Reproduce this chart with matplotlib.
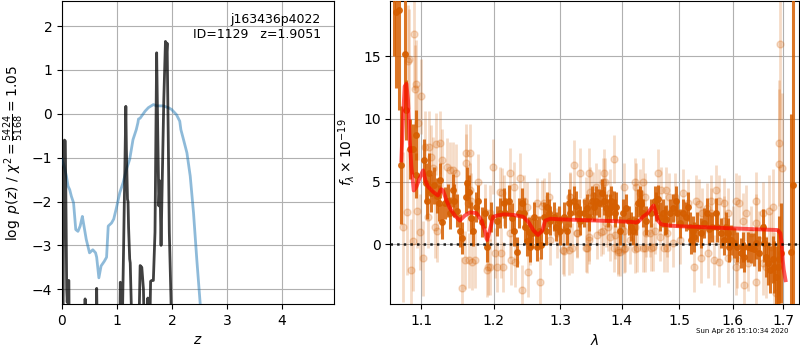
import matplotlib
matplotlib.use('Agg')
import matplotlib.pyplot as plt
from matplotlib.ticker import FixedLocator, FixedFormatter, NullLocator

# ---------------- left panel: redshift fit ----------------
chi_z = [0.0, 0.04, 0.08, 0.11, 0.14, 0.17, 0.21, 0.25, 0.29, 0.33, 0.37, 0.39, 0.44, 0.50, 0.56,
         0.61, 0.63, 0.67, 0.71, 0.77, 0.81, 0.84, 0.90, 0.94, 0.99, 1.05, 1.11, 1.17, 1.23, 1.29,
         1.35, 1.38, 1.39, 1.42, 1.51, 1.57, 1.66, 1.72, 1.84, 1.93, 1.99, 2.08, 2.14, 2.16, 2.20,
         2.27, 2.33, 2.39, 2.45, 2.51, 2.57]
chi_v = [-1.04, -1.20, -1.42, -1.65, -1.73, -1.88, -2.03, -2.64, -2.68, -2.56, -2.34, -2.49, -2.86,
         -3.17, -3.10, -3.17, -3.27, -3.74, -3.47, -3.36, -3.27, -2.56, -2.49, -2.40, -2.14, -1.80,
         -1.57, -1.27, -1.04, -0.59, -0.36, -0.20, -0.12, -0.10, 0.06, 0.14, 0.21, 0.18, 0.18, 0.14,
         0.10, -0.02, -0.17, -0.36, -0.55, -0.89, -1.42, -2.26, -3.33, -4.31, -5.3]

pz_z = [0.00, 0.02, 0.035, 0.045, 0.06, 0.075, 0.085, 0.095, 0.11, 0.125, 0.135, 0.40, 0.42, 0.44,
        0.61, 0.63, 0.65, 1.04, 1.06, 1.08, 1.12, 1.16, 1.17, 1.19, 1.20, 1.21, 1.23, 1.24, 1.26,
        1.28, 1.38, 1.42, 1.45, 1.48, 1.51, 1.54, 1.56, 1.58, 1.61, 1.63, 1.66, 1.69, 1.72, 1.74,
        1.76, 1.78, 1.80, 1.82, 1.85, 1.88, 1.90, 1.91, 1.93, 1.95, 1.98, 2.01, 2.10]
pz_v = [-6, -4.5, -0.65, -0.60, -0.62, -2.5, -4.0, -4.3, -3.8, -3.8, -6, -6, -4.22, -6,
        -6, -3.98, -6, -6, -3.84, -6, -3.0, 0.17, -0.8, -1.95, -2.0, -2.6, -3.31, -3.4, -4.4,
        -6, -6, -3.46, -3.5, -4.0, -6, -6, -4.2, -6, -3.82, -3.80, -3.8, -2.7, 1.39, -0.43,
        -2.1, -1.53, -3.0, -1.64, 0.33, 1.65, 1.39, 1.61, -0.43, -2.7, -4.2, -6, -6]

z_ticks = [0, 1, 2, 3, 4]
logp_ticks = [-4, -3, -2, -1, 0, 1, 2]

# ---------------- right panel: spectrum ----------------
dark_wave = [1.0639, 1.0665, 1.0708, 1.0738, 1.0781, 1.0803, 1.0846, 1.0890, 1.0925, 1.0934,
             1.1035, 1.1058, 1.1075, 1.1102, 1.1133, 1.1164, 1.1210, 1.1236, 1.1246, 1.1282,
             1.1313, 1.1359, 1.1382, 1.1428, 1.1437, 1.1487, 1.1529, 1.1557, 1.1603, 1.1622,
             1.1645, 1.1683, 1.1707, 1.1744, 1.1778, 1.1825, 1.1872, 1.1905, 1.1967,
             1.2048, 1.2097, 1.2146, 1.2170, 1.2219, 1.2268, 1.2293, 1.2343, 1.2367, 1.2417,
             1.2442, 1.2467, 1.2492, 1.2518, 1.2542, 1.2568, 1.2593, 1.2619, 1.2644, 1.2670,
             1.2695, 1.2746, 1.2772, 1.2797, 1.2823, 1.2848, 1.2900, 1.2926, 1.2978, 1.3003,
             1.3056, 1.3108, 1.3134, 1.3161, 1.3214, 1.3256, 1.3294, 1.3320, 1.3373, 1.3427,
             1.3454, 1.3508, 1.3535,
             1.3573, 1.3628, 1.3672, 1.3710, 1.3738, 1.3766, 1.3794, 1.3822, 1.3861, 1.3878,
             1.3905, 1.3961, 1.4017, 1.4073, 1.4119, 1.4158, 1.4187, 1.4244, 1.4273, 1.4301,
             1.4330, 1.4359, 1.4417, 1.4505, 1.4562, 1.4592, 1.4621, 1.4650, 1.4710, 1.4740,
             1.4769, 1.4828, 1.4888, 1.4936, 1.4966, 1.5008, 1.5068, 1.5128, 1.5159, 1.5189,
             1.5219, 1.5250,
             1.5271, 1.5333, 1.5394, 1.5456, 1.5519, 1.5550, 1.5612, 1.5675, 1.5707, 1.5770,
             1.5834, 1.5866, 1.5898, 1.5930, 1.5962, 1.6026, 1.6090, 1.6155, 1.6188, 1.6220,
             1.6286, 1.6351, 1.6417, 1.6450, 1.6516, 1.6583, 1.6616, 1.6650, 1.6683, 1.6738,
             1.6785, 1.6819, 1.6853, 1.6885, 1.6921, 1.6948, 1.7150, 1.7197]
dark_flux = [21.0, 18.5, 18.7, 6.3, 15.2, 10.7, 7.6, 7.6, 8.7, 5.5,
             6.7, 4.9, 3.5, 5.7, 4.1, 4.7, 3.9, 3.3, 5.1, 1.8,
             3.3, 3.5, 2.5, 4.3, 3.5, 2.7, 1.1, 0.5, 3.8, 4.9,
             4.2, 2.1, 1.1, 3.0, 3.5, 1.8, 2.5, -0.2, 2.2,
             1.9, 2.5, 3.3, 2.5, 3.5, 2.1, 1.1, -0.6, 2.5, 3.3,
             2.5, 1.4, 0.3, 1.0, -0.2, 0.9, 2.2, 0.9, -0.2, 1.1,
             -0.05, 2.2, 1.1, 3.0, 2.5, 1.9, 2.2, 1.4, 1.9, 1.1,
             2.2, 1.1, 3.3, 2.5, 3.5, 3.1, 2.5, 1.9, 2.5, 2.9,
             2.2, 3.5, 3.0,
             3.5, 3.3, 4.1, 3.5, 2.9, 2.5, 2.9, 3.5, 3.1, 2.5,
             3.0, 1.1, 2.5, 2.9, 1.9, 1.4, 1.1, 1.9, 3.3, 3.5,
             3.2, 2.5, 1.9, 2.5, 3.5, 3.0, 3.6, 2.2, 2.5, 1.9,
             2.0, 2.5, 2.9, 3.5, 2.5, 1.7, 2.5, 2.2, 3.0, 1.4,
             0.35, 1.1,
             0.6, 1.4, 0.9, 1.7, 2.5, 1.2, 1.4, 2.5, 1.4, 0.9,
             0.35, 1.4, 0.9, -0.2, 0.35, 0.1, -0.2, -0.7, -0.2, -1.0,
             -0.2, -0.3, -0.4, 0.1, -0.7, 1.4, 0.1, -1.0, -1.5, -2.0,
             -1.2, -1.8, -2.6, -1.8, -1.2, -0.7, -0.6, 4.7]
dark_err = [6.0, 6.0, 8.0, 4.7, 4.5, 2.4, 2.4, 2.0, 2.0, 1.8,
            1.7, 1.6, 1.5, 1.6, 1.5, 1.5, 1.4, 1.4, 1.4, 1.4,
            1.3, 1.3, 1.3, 1.3, 1.3, 1.3, 1.3, 1.3, 1.3, 1.3,
            1.3, 1.3, 1.2, 1.2, 1.2, 1.2, 1.2, 1.2, 1.2,
            1.2, 1.2, 1.2, 1.2, 1.2, 1.2, 1.2, 1.2, 1.2, 1.2,
            1.2, 1.2, 1.2, 1.2, 1.2, 1.2, 1.2, 1.15, 1.15, 1.15,
            1.15, 1.15, 1.15, 1.15, 1.15, 1.15, 1.15, 1.15, 1.15, 1.15,
            1.15, 1.15, 1.15, 1.15, 1.15, 1.15, 1.15, 1.15, 1.15, 1.15,
            1.15, 1.15, 1.15,
            1.15, 1.15, 1.15, 1.15, 1.15, 1.15, 1.15, 1.15, 1.15, 1.15,
            1.15, 1.15, 1.15, 1.15, 1.15, 1.15, 1.15, 1.15, 1.15, 1.15,
            1.15, 1.15, 1.15, 1.15, 1.15, 1.15, 1.15, 1.15, 1.15, 1.15,
            1.15, 1.15, 1.15, 1.15, 1.15, 1.15, 1.15, 1.15, 1.15, 1.15,
            1.15, 1.15,
            1.2, 1.2, 1.2, 1.2, 1.2, 1.2, 1.2, 1.2, 1.2, 1.2,
            1.2, 1.2, 1.2, 1.2, 1.2, 1.2, 1.2, 1.2, 1.2, 1.2,
            1.2, 1.2, 1.3, 1.3, 1.4, 1.4, 1.5, 1.6, 1.7, 1.9,
            1.9, 2.1, 2.5, 3.0, 3.5, 4.0, 11.0, 16.0]

light_wave = [1.0760, 1.0812, 1.0824, 1.0833, 1.0868, 1.0890, 1.0899, 1.0912, 1.0934, 1.0940,
              1.0956, 1.0978, 1.0991, 1.1022, 1.1044, 1.1089, 1.1102, 1.1133, 1.1155, 1.1177,
              1.1201, 1.1210, 1.1255, 1.1282, 1.1337, 1.1382, 1.1428, 1.1464, 1.1557, 1.1590,
              1.1603, 1.1613, 1.1636, 1.1655, 1.1660, 1.1665, 1.1683, 1.1697, 1.1739, 1.1778,
              1.1872, 1.1896, 1.1919, 1.1943, 1.1952, 1.1991,
              1.2024, 1.2048, 1.2097, 1.2100, 1.2121, 1.2136, 1.2146, 1.2240, 1.2244, 1.2250,
              1.2293, 1.2318, 1.2392, 1.2417, 1.2442, 1.2492, 1.2502, 1.2542, 1.2644, 1.2685,
              1.2721, 1.2746, 1.2823, 1.2848, 1.2952, 1.3056, 1.3134, 1.3161, 1.3188, 1.3214,
              1.3267, 1.3320, 1.3427, 1.3454, 1.3481,
              1.3465, 1.3519, 1.3573, 1.3580, 1.3683, 1.3690, 1.3710, 1.3766, 1.3794, 1.3861,
              1.3878, 1.3933, 1.3961, 1.4045, 1.4130, 1.4215, 1.4244, 1.4250, 1.4359, 1.4388,
              1.4475, 1.4533, 1.4621, 1.4650, 1.4769, 1.4775, 1.4888, 1.4918, 1.5008, 1.5068,
              1.5159,
              1.5271, 1.5302, 1.5363, 1.5394, 1.5400, 1.5425, 1.5519, 1.5525, 1.5581, 1.5590,
              1.5644, 1.5675, 1.5739, 1.5745, 1.5834, 1.5840, 1.5898, 1.5905, 1.5994, 1.6058,
              1.6065, 1.6090, 1.6122, 1.6188, 1.6207, 1.6253, 1.6286, 1.6351, 1.6450, 1.6455,
              1.6460, 1.6516, 1.6583, 1.6590, 1.6650, 1.6717, 1.6751, 1.6785, 1.6819, 1.6853,
              1.6907, 1.6921, 1.6941, 1.6976,
              1.3153, 1.3413, 1.3624, 1.3806, 1.4041, 1.4307, 1.4388, 1.4682, 1.4813, 1.3047,
              1.3413, 1.3870, 1.3943, 1.4036, 1.4228, 1.4356, 1.4498, 1.4723, 1.3100, 1.3257,
              1.3464, 1.3650, 1.3728, 1.4041, 1.4228, 1.4417, 1.4575, 1.4786, 1.3715]
light_flux = [1.4, 2.6, 14.6, 14.8, -2.0, 0.3, 16.8, 12.4, 12.8, 2.7,
              9.7, 1.0, 11.8, -1.1, 7.8, 2.2, 7.8, 7.0, 6.1, 1.4,
              8.0, 1.1, 8.1, 6.7, 6.2, 5.9, 5.9, 5.7, -3.5, -1.25,
              7.3, 6.5, 3.3, -1.25, 7.3, 4.3, 3.5, -1.4, -1.25, 5.0,
              2.6, -2.0, -1.8, 2.5, -1.8, 6.2,
              -0.7, -1.8, 4.2, -0.7, 4.1, -1.8, 3.5, 0.9, 5.7, -1.25,
              4.6, -1.4, 5.3, -3.6, 3.5, 3.0, -2.2, 0.35, 3.3, -3.0,
              3.1, 3.3, 3.8, 0.35, 0.9, -0.5, -0.45, 3.8, -0.3, 6.3,
              0.9, 5.7, -0.3, 5.7, 4.2,
              0.35, 3.9, 4.6, 0.75, 5.0, 1.1, 5.7, 1.4, 0.6, 6.8,
              0.75, -0.45, -0.6, -0.3, 0.35, 5.0, 4.6, -0.3, 5.0, -0.3,
              0.9, -0.2, 5.7, 0.6, 4.3, -0.3, 0.1, 3.8, 0.35, 4.1,
              3.3,
              -1.8, 3.5, 3.2, -1.1, 1.1, 2.5, 2.9, -0.7, 3.5, 2.5,
              -1.25, 4.3, 3.5, -1.4, 3.3, 1.9, 2.5, -1.1, 1.1, 3.5,
              -1.8, -1.25, 3.3, 1.9, -3.2, 2.5, -1.5, 0.9, 3.5, -3.0,
              1.7, 0.35, 2.5, -1.5, -1.8, 2.7, -0.2, 3.0, -2.0, -3.9,
              8.1, 6.4, 16.0, 6.1,
              3.8, 3.5, 4.1, 4.1, 4.6, 4.1, 3.8, 4.3, 3.8, -0.45,
              -0.3, -0.3, -0.6, -0.4, -0.4, -0.3, -0.25, -0.3, 1.4, 0.9,
              0.6, 1.0, 1.7, 1.1, 1.4, 0.9, 1.1, 0.9, 5.0]
light_err = [6.0, 5.0, 4.5, 4.0, 4.0, 4.0, 4.5, 3.5, 3.5, 3.0,
             3.0, 3.0, 3.0, 3.0, 2.8, 2.5, 2.8, 2.5, 2.5, 2.5,
             2.5, 2.5, 2.5, 2.5, 2.3, 2.3, 2.3, 2.3, 2.5, 2.3,
             2.3, 2.3, 2.2, 2.2, 2.3, 2.2, 2.2, 2.2, 2.2, 2.2,
             2.2, 2.2, 2.2, 2.2, 2.2, 2.2,
             2.0, 2.0, 2.0, 2.0, 2.0, 2.0, 2.0, 2.0, 2.0, 2.0,
             2.0, 2.0, 2.0, 2.0, 2.0, 2.0, 2.0, 2.0, 2.0, 2.0,
             2.0, 2.0, 2.0, 2.0, 2.0, 2.0, 2.0, 2.0, 2.0, 2.0,
             2.0, 2.0, 2.0, 2.0, 2.0,
             1.9, 1.9, 1.9, 1.9, 1.9, 1.9, 1.9, 1.9, 1.9, 1.9,
             1.9, 1.9, 1.9, 1.9, 1.9, 1.9, 1.9, 1.9, 1.9, 1.9,
             1.9, 1.9, 1.9, 1.9, 1.9, 1.9, 1.9, 1.9, 1.9, 1.9,
             1.9,
             2.0, 2.0, 2.0, 2.0, 2.0, 2.0, 2.0, 2.0, 2.0, 2.0,
             2.0, 2.0, 2.0, 2.0, 2.0, 2.0, 2.0, 2.0, 2.0, 2.2,
             2.2, 2.2, 2.2, 2.2, 2.2, 2.2, 2.2, 2.2, 2.3, 2.3,
             2.3, 2.3, 2.5, 2.5, 2.5, 2.8, 2.8, 3.0, 3.0, 3.0,
             5.0, 6.0, 6.0, 6.0,
             1.9, 1.9, 1.9, 1.9, 1.9, 1.9, 1.9, 1.9, 1.9, 1.9,
             1.9, 1.9, 1.9, 1.9, 1.9, 1.9, 1.9, 1.9, 1.9, 1.9,
             1.9, 1.9, 1.9, 1.9, 1.9, 1.9, 1.9, 1.9, 1.9]

model_wave = [1.0738, 1.0760, 1.0781, 1.0803, 1.0824, 1.0846, 1.0868, 1.0899, 1.0934, 1.0970,
              1.1022, 1.1058, 1.1089, 1.1155, 1.1220, 1.1265, 1.1290, 1.1337, 1.1382, 1.1451,
              1.1520, 1.1590, 1.1660, 1.1754, 1.1825, 1.1872, 1.1905, 1.1943, 1.1991, 1.2048,
              1.2146, 1.2292, 1.2434, 1.2510, 1.2590, 1.2656, 1.2720, 1.2767, 1.2850, 1.3000,
              1.3300, 1.3600, 1.3900, 1.4150, 1.4244, 1.4301, 1.4359, 1.4446, 1.4505, 1.4545,
              1.4580, 1.4621, 1.4680, 1.4828, 1.5000, 1.5300, 1.5600, 1.6000, 1.6500, 1.6885,
              1.6941, 1.6969, 1.6990, 1.7010, 1.7047]
model_flux = [6.7, 10.2, 12.6, 12.8, 11.5, 8.3, 6.2, 4.3, 4.6, 5.2,
              5.9, 5.0, 4.6, 4.2, 3.9, 4.4, 4.3, 3.5, 2.9, 2.3,
              1.9, 2.3, 2.55, 2.5, 1.9, 1.1, 0.35, 1.1, 2.2, 2.3,
              2.4, 2.35, 2.2, 1.8, 1.1, 0.75, 1.1, 1.9, 2.05, 2.0,
              1.95, 1.9, 1.85, 1.8, 1.75, 1.9, 2.2, 2.5, 2.9, 3.1,
              2.6, 1.9, 1.6, 1.5, 1.45, 1.4, 1.35, 1.28, 1.2, 1.15,
              0.9, 0.1, -1.25, -2.0, -2.85]

wave_ticks = [1.1, 1.2, 1.3, 1.4, 1.5, 1.6, 1.7]
wave_labels = ['1.1', '1.2', '1.3', '1.4', '1.5', '1.6', '1.7']
flux_ticks = [0, 5, 10, 15]

grism_color = (0.8353, 0.3686, 0.0)

fig = plt.figure(figsize=(8, 3.5), dpi=100)
ax1 = fig.add_axes([0.0775, 0.131, 0.3405, 0.866])
ax2 = fig.add_axes([0.488, 0.131, 0.511, 0.866])

# left
ax1.plot(chi_z, chi_v, color='tab:blue', alpha=0.5, lw=2, zorder=3)
ax1.plot(pz_z, pz_v, color='k', alpha=0.75, lw=2, zorder=4)
ax1.set_xlim(0, 4.95)
ax1.set_ylim(-4.34, 2.57)
ax1.set_xticks(z_ticks)
ax1.set_yticks(logp_ticks)
ax1.grid(True)
ax1.set_axisbelow(True)
ax1.set_xlabel('$z$')
ax1.set_ylabel(r'$\log\ p(z)$ / $\chi^2=\frac{5424}{5168}=1.05$')
ax1.text(0.95, 0.96, 'j163436p4022\nID=1129   z=1.9051', ha='right', va='top',
         transform=ax1.transAxes, fontsize=9)

# right
ax2.set_xscale('log')
ax2.errorbar(light_wave, light_flux, yerr=light_err, fmt='o', color=grism_color, alpha=0.22,
             ms=5, elinewidth=2, zorder=2)
ax2.errorbar(dark_wave, dark_flux, yerr=dark_err, fmt='o', color=grism_color, alpha=0.85,
             ms=4, elinewidth=2.2, zorder=3)
ax2.plot(model_wave, model_flux, color='r', alpha=0.65, lw=2.8, zorder=5)
ax2.axhline(0, color='k', ls=':', lw=1.8, alpha=0.85, zorder=6)
ax2.set_xlim(1.0597, 1.733)
ax2.set_ylim(-4.76, 19.4)
ax2.xaxis.set_major_locator(FixedLocator(wave_ticks))
ax2.xaxis.set_major_formatter(FixedFormatter(wave_labels))
ax2.xaxis.set_minor_locator(NullLocator())
ax2.set_yticks(flux_ticks)
ax2.grid(True)
ax2.set_axisbelow(True)
ax2.set_xlabel(r'$\lambda$')
ax2.set_ylabel(r'$f_\lambda\times 10^{-19}$')

fig.text(0.985, 0.045, 'Sun Apr 26 15:10:34 2020', ha='right', va='bottom', fontsize=5)

fig.savefig('out.png', dpi=100)
